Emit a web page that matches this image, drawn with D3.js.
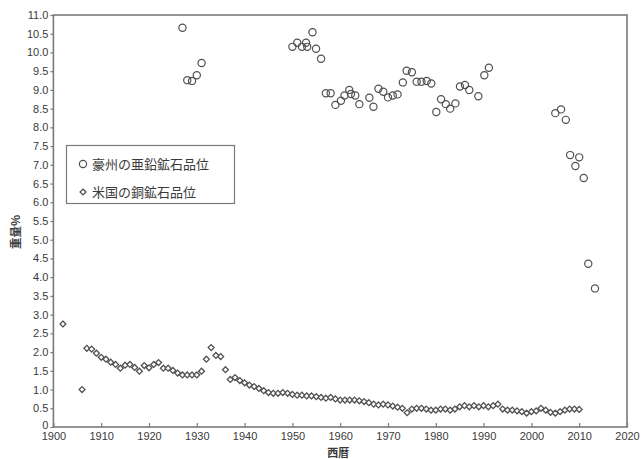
<!DOCTYPE html>
<html><head><meta charset="utf-8">
<script src="https://cdn.jsdelivr.net/npm/d3@7"></script>
<style>
html,body{margin:0;padding:0;background:#fff;}
svg{display:block;}
text{font-family:"Liberation Sans",Arial,sans-serif;}
.cjk{font-family:"Noto Sans CJK JP","Noto Sans CJK SC",sans-serif;}
</style></head>
<body>
<svg id="chart" width="641" height="459"></svg>
<script>
// Series names / axis titles
const seriesNames = ["豪州の亜鉛鉱石品位", "米国の銅鉱石品位"];
const xTitle = "西暦";
const yTitle = "重量%";

// Tick labels
const xTicks = [1900,1910,1920,1930,1940,1950,1960,1970,1980,1990,2000,2010,2020];
const yTicks = [0,0.5,1,1.5,2,2.5,3,3.5,4,4.5,5,5.5,6,6.5,7,7.5,8,8.5,9,9.5,10,10.5,11];

// Australia zinc ore grade (circles)
const zincYears = [1927,1928,1929,1930,1931,
  1950,1951,1952,1952.85,1953.1,1954.2,1954.95,1956,1957,1958,1959,1960.15,1960.9,1961.9,1962.25,1963.15,1964,
  1966.1,1966.95,1968,1969,1970,1971,1972,1973.1,1973.9,1975,1976,1977,1978.1,1979.05,1980.1,1981.1,1982.1,1983,1984.1,1985.05,1986.1,1987,1988.9,1990.15,1991.1,
  2005,2006.2,2007.2,2008.1,2009.2,2010,2010.95,2011.9,2013.3];
const zincValues = [10.66,9.26,9.24,9.39,9.72,
  10.15,10.26,10.15,10.26,10.15,10.54,10.10,9.83,8.91,8.91,8.60,8.71,8.85,9.00,8.89,8.85,8.62,
  8.79,8.55,9.03,8.95,8.80,8.85,8.88,9.20,9.51,9.47,9.22,9.22,9.24,9.17,8.41,8.75,8.62,8.50,8.64,9.09,9.13,9.00,8.83,9.39,9.59,
  8.38,8.48,8.20,7.26,6.97,7.20,6.65,4.36,3.70];

// US copper ore grade (diamonds)
const copperYears = [1902,1906,1907,1908,1909,1910,1911,1912,1913,1914,1915,1916,1917,1918,1919,
  1920,1921,1922,1923,1924,1925,1926,1927,1928,1929,1930,1931,1932,1933,1934,1935,1936,1937,1938,1939,
  1940,1941,1942,1943,1944,1945,1946,1947,1948,1949,1950,1951,1952,1953,1954,1955,1956,1957,1958,1959,
  1960,1961,1962,1963,1964,1965,1966,1967,1968,1969,1970,1971,1972,1973,1974,1975,1976,1977,1978,1979,
  1980,1981,1982,1983,1984,1985,1986,1987,1988,1989,1990,1991,1992,1993,1994,1995,1996,1997,1998,1999,
  2000,2001,2002,2003,2004,2005,2006,2007,2008,2009,2010];
const copperValues = [2.75,1.00,2.10,2.08,1.97,1.86,1.81,1.73,1.67,1.57,1.65,1.67,1.59,1.49,1.64,
  1.58,1.67,1.72,1.57,1.57,1.51,1.44,1.39,1.39,1.39,1.39,1.49,1.81,2.12,1.91,1.88,1.53,1.27,1.32,1.24,
  1.18,1.12,1.08,1.03,0.97,0.92,0.90,0.90,0.92,0.90,0.87,0.85,0.85,0.83,0.83,0.81,0.79,0.77,0.79,0.75,
  0.72,0.72,0.72,0.72,0.70,0.68,0.65,0.61,0.59,0.61,0.59,0.56,0.53,0.50,0.38,0.48,0.50,0.50,0.48,0.45,
  0.45,0.48,0.48,0.45,0.48,0.54,0.57,0.54,0.57,0.54,0.57,0.54,0.57,0.61,0.48,0.45,0.45,0.43,0.41,0.37,
  0.41,0.43,0.50,0.45,0.39,0.37,0.41,0.45,0.48,0.48,0.47];

const svg = d3.select("#chart");
const L = 53.4, R = 627, T = 15, B = 427;
const x = d3.scaleLinear().domain([1900, 2020]).range([L, R]);
const y = d3.scaleLinear().domain([0, 11]).range([B, T]);
const axisCol = "#7a7a7a";
const textCol = "#3a3a3a";
const markCol = "#505050";

// frame
svg.append("rect").attr("x", L).attr("y", T).attr("width", R - L).attr("height", B - T)
  .attr("fill", "none").attr("stroke", axisCol).attr("stroke-width", 1.6);

// x axis
const xa = svg.append("g").attr("transform", `translate(0,${B})`)
  .call(d3.axisBottom(x).tickValues(xTicks).tickFormat(d3.format("d")).tickSize(-4).tickPadding(5));
xa.select(".domain").remove();
xa.selectAll("line").attr("stroke", axisCol).attr("stroke-width", 1.2);
xa.selectAll("text").attr("fill", textCol).style("font-size", "11px");

// y axis
const ya = svg.append("g").attr("transform", `translate(${L},0)`)
  .call(d3.axisLeft(y).tickValues(yTicks).tickFormat(d => d === 0 ? "0" : d3.format(".1f")(d)).tickSize(3).tickPadding(2));
ya.select(".domain").remove();
ya.selectAll("line").attr("stroke", axisCol).attr("stroke-width", 1.2);
ya.selectAll("text").attr("fill", textCol).style("font-size", "11px");
ya.selectAll(".tick").filter(d => d === 0).select("text").attr("dy", "0.1em");

// axis titles
svg.append("text").attr("class", "cjk").attr("x", (L + R) / 2 - 2).attr("y", 457)
  .attr("text-anchor", "middle").attr("fill", textCol).style("font-size", "11px").style("font-weight", "bold").text(xTitle);
svg.append("text").attr("class", "cjk").attr("transform", "translate(20,232) rotate(-90)")
  .attr("text-anchor", "middle").attr("fill", textCol).style("font-size", "11.5px").style("font-weight", "bold").text(yTitle);

// markers
const diamond = d3.symbol().type(d3.symbolDiamond2).size(22);
svg.append("g").selectAll("path").data(copperYears.map((yr, i) => [yr, copperValues[i]]))
  .join("path").attr("d", diamond)
  .attr("transform", d => `translate(${x(d[0])},${y(d[1])})`)
  .attr("fill", "#fff").attr("stroke", markCol).attr("stroke-width", 1.3);

svg.append("g").selectAll("circle").data(zincYears.map((yr, i) => [yr, zincValues[i]]))
  .join("circle").attr("cx", d => x(d[0])).attr("cy", d => y(d[1])).attr("r", 3.6)
  .attr("fill", "none").attr("stroke", markCol).attr("stroke-width", 1.2);

// legend
const lg = svg.append("g");
lg.append("rect").attr("x", 66.5).attr("y", 145.5).attr("width", 168).attr("height", 58)
  .attr("fill", "#fff").attr("stroke", axisCol).attr("stroke-width", 1.2);
lg.append("circle").attr("cx", 83).attr("cy", 164).attr("r", 3.6)
  .attr("fill", "none").attr("stroke", markCol).attr("stroke-width", 1.2);
lg.append("path").attr("d", diamond).attr("transform", "translate(83,192)")
  .attr("fill", "#fff").attr("stroke", markCol).attr("stroke-width", 1.3);
lg.append("text").attr("class", "cjk").attr("x", 92).attr("y", 168.5).attr("fill", textCol)
  .style("font-size", "13px").text(seriesNames[0]);
lg.append("text").attr("class", "cjk").attr("x", 92).attr("y", 196.5).attr("fill", textCol)
  .style("font-size", "13px").text(seriesNames[1]);
</script>
</body></html>
